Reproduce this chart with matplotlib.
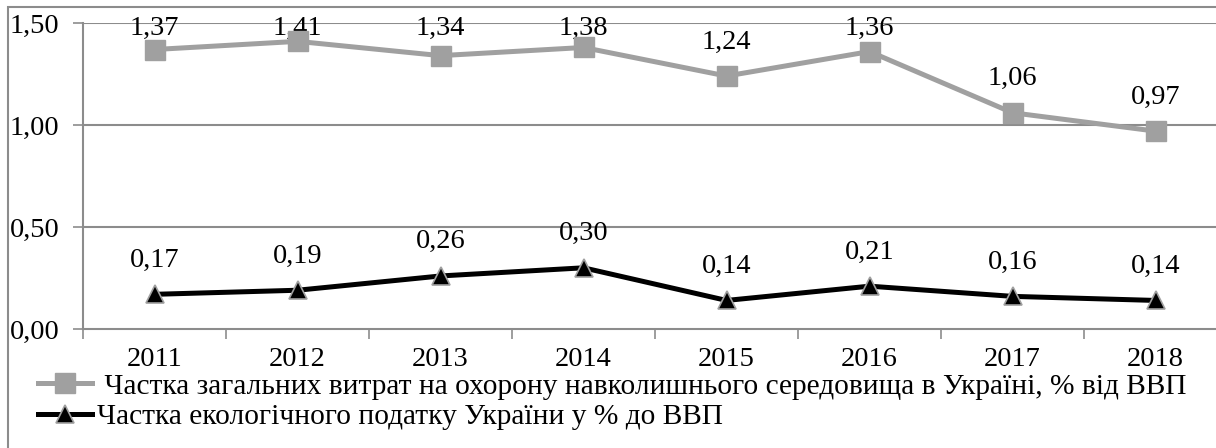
import matplotlib
matplotlib.use("Agg")
import matplotlib.pyplot as plt
from matplotlib.patches import Rectangle

years = ["2011", "2012", "2013", "2014", "2015", "2016", "2017", "2018"]
spend = [1.37, 1.41, 1.34, 1.38, 1.24, 1.36, 1.06, 0.97]
tax = [0.17, 0.19, 0.26, 0.30, 0.14, 0.21, 0.16, 0.14]
yticks = [0.0, 0.5, 1.0, 1.5]
lab_spend = " Частка загальних витрат на охорону навколишнього середовища в Україні, % від ВВП"
lab_tax = "Частка екологічного податку України у % до ВВП"

plt.rcParams["font.family"] = ["Liberation Serif", "DejaVu Serif"]
GRID = "#8c8c8c"
GREY = "#a0a0a0"
FS = 20.5
LAB_OFF = 0.167   # label lift above the point, in data units
LAB_MAX = 1.475   # labels are kept inside the chart like Excel does

def fmt(v):
    return f"{v:.2f}".replace(".", ",")

fig = plt.figure(figsize=(12.16, 4.48), dpi=100)
# outer chart frame (cropped on the right and bottom like the source)
fig.patches.append(Rectangle((8 / 1216, -0.1), 1.2, (448 - 7) / 448 + 0.1,
                             transform=fig.transFigure, fill=False,
                             edgecolor=GRID, lw=1.5, zorder=0))

ax = fig.add_axes([83 / 1216, (448 - 329) / 448, 1144 / 1216, 306 / 448])
x = list(range(len(years)))

l1, = ax.plot(x, spend, "-s", color=GREY, lw=3.6, ms=14, mec=GREY,
              label=lab_spend, zorder=3, clip_on=False)
l2, = ax.plot(x, tax, "-^", color="black", lw=3.6, ms=13, mfc="black",
              mec=GREY, mew=1.2, label=lab_tax, zorder=3, clip_on=False)

for series in (spend, tax):
    for xi, v in zip(x, series):
        ax.text(xi, min(v + LAB_OFF, LAB_MAX), fmt(v), ha="center",
                va="center", fontsize=FS, zorder=2)

ax.set_xlim(-0.5, len(years) - 0.5)
ax.set_ylim(0, 1.5)
ax.set_yticks(yticks)
ax.set_yticklabels([fmt(v) for v in yticks], fontsize=FS)
ax.set_xticks(x)
ax.set_xticklabels(years, fontsize=FS)
ax.set_xticks([i - 0.5 for i in range(len(years) + 1)], minor=True)
ax.tick_params(axis="x", which="major", length=0, pad=13)
ax.tick_params(axis="x", which="minor", length=7, color=GRID, width=1.2)
ax.tick_params(axis="y", length=7, color=GRID, width=1.2, pad=10)
for yv in yticks[1:]:
    ax.axhline(yv, color=GRID, lw=1.5, zorder=1)
for s in ["top", "right"]:
    ax.spines[s].set_visible(False)
for s in ["left", "bottom"]:
    ax.spines[s].set_color(GRID)
    ax.spines[s].set_linewidth(1.5)

fig.legend(handles=[l1, l2], loc="upper left",
           bbox_to_anchor=(38 / 1216, (448 - 373) / 448), frameon=False,
           fontsize=21.2, handlelength=1.85, handletextpad=0.15,
           labelspacing=0.13, borderaxespad=0, borderpad=0)

fig.savefig("out.png", dpi=100)
